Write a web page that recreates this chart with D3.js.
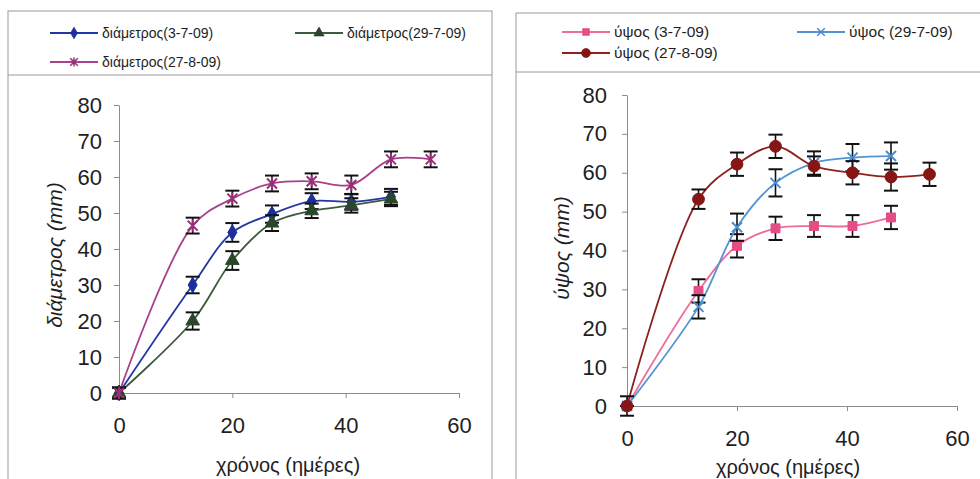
<!DOCTYPE html>
<html>
<head>
<meta charset="utf-8">
<script src="https://cdn.jsdelivr.net/npm/d3@7"></script>
<style>
  body { margin: 0; background: #fff; }
  svg { display: block; font-family: "Liberation Sans", Arial, sans-serif; }
</style>
</head>
<body>
<svg id="chart" width="980" height="479"></svg>
<script>
// sampling days (x) and axis ticks
const days = [0, 13, 20, 27, 34, 41, 48, 55];
const xTicks = [0, 20, 40, 60];
const yTicks = [0, 10, 20, 30, 40, 50, 60, 70, 80];

// left chart: διάμετρος (mm)
const diamNames = ["διάμετρος(3-7-09)", "διάμετρος(29-7-09)", "διάμετρος(27-8-09)"];
const diam_3_7 = [0, 30, 44.6, 49.7, 53.3, 53.1, 54.5];
const diam_3_7_err = [1.5, 2.3, 2.6, 2.4, 2.2, 2.2, 2.2];
const diam_29_7 = [0, 20, 36.8, 47.2, 50.6, 52.1, 53.9];
const diam_29_7_err = [1.5, 2.4, 2.6, 2.2, 2.0, 2.0, 2.0];
const diam_27_8 = [0, 46.5, 54, 58.2, 58.8, 57.8, 64.9, 64.9];
const diam_27_8_err = [1.5, 2.2, 2.2, 2.2, 2.2, 2.6, 2.2, 2.2];

// right chart: ύψος (mm)
const heightNames = ["ύψος (3-7-09)", "ύψος (29-7-09)", "ύψος (27-8-09)"];
const h_3_7 = [0, 29.6, 41.2, 45.7, 46.3, 46.3, 48.5];
const h_3_7_err = [0, 3, 3, 3, 2.8, 2.8, 3];
const h_29_7 = [0, 25.5, 46, 57.4, 62.5, 63.9, 64.3];
const h_29_7_err = [0, 3, 3.5, 3.5, 3, 3.5, 3.5];
const h_27_8 = [0, 53.2, 62.2, 66.8, 61.7, 60, 58.9, 59.6];
const h_27_8_err = [2.5, 2.5, 3, 3, 2.5, 3, 3.5, 3];

const svg = d3.select("#chart");

function markerPath(type) {
  if (type === "diamond") return d3.symbol(d3.symbolDiamond, 70)();
  if (type === "triangle") return d3.symbol(d3.symbolTriangle, 80)();
  if (type === "square") return d3.symbol(d3.symbolSquare, 80)();
  if (type === "circle") return d3.symbol(d3.symbolCircle, 110)();
  if (type === "star") return "M-5,-5L5,5M-5,5L5,-5M0,-6L0,6";
  if (type === "x") return "M-5,-5L5,5M-5,5L5,-5";
}

function drawPanel(cfg) {
  const g = svg.append("g");

  // frame + legend box
  g.append("rect")
    .attr("x", cfg.box[0]).attr("y", cfg.box[1])
    .attr("width", cfg.box[2]).attr("height", cfg.box[3])
    .attr("fill", "none").attr("stroke", "#9a9a9a").attr("stroke-width", 1);
  g.append("line")
    .attr("x1", cfg.box[0]).attr("x2", cfg.box[0] + cfg.box[2])
    .attr("y1", cfg.legendBottom).attr("y2", cfg.legendBottom)
    .attr("stroke", "#9a9a9a");

  const x = d3.scaleLinear().domain([0, 60]).range([cfg.x0, cfg.x1]);
  const y = d3.scaleLinear().domain([0, 80]).range([cfg.y0, cfg.y1]);

  const yAxis = g.append("g")
    .attr("transform", `translate(${cfg.x0},0)`)
    .call(d3.axisLeft(y).tickValues(yTicks).tickSize(5).tickSizeOuter(0).tickPadding(cfg.yPad));
  const xAxis = g.append("g")
    .attr("transform", `translate(0,${cfg.y0})`)
    .call(d3.axisBottom(x).tickValues(xTicks).tickSize(5).tickSizeOuter(0));

  [yAxis, xAxis].forEach(a => {
    a.select(".domain").attr("stroke", "#8c8c8c");
    a.selectAll(".tick line").attr("stroke", "#8c8c8c");
    a.selectAll("text").attr("fill", "#1e1e1e").attr("font-size", 22)
      .attr("font-family", "Liberation Sans, Arial, sans-serif");
  });
  xAxis.selectAll("text").attr("dy", null).attr("y", cfg.xLabelY - cfg.y0);

  // axis titles
  g.append("text")
    .attr("x", cfg.xTitle[0]).attr("y", cfg.xTitle[1])
    .attr("text-anchor", "middle").attr("font-size", 20).attr("fill", "#1e1e1e")
    .text("χρόνος (ημέρες)");
  g.append("text")
    .attr("transform", `translate(${cfg.yTitle[0]},${cfg.yTitle[1]}) rotate(-90)`)
    .attr("text-anchor", "middle").attr("dy", "0.35em")
    .attr("font-size", 21).attr("font-style", "italic").attr("fill", "#1e1e1e")
    .text(cfg.yTitleText);

  const line = d3.line()
    .x((d, i) => x(days[i]))
    .y(d => y(d))
    .curve(d3.curveCatmullRom);

  cfg.series.forEach(s => {
    const sg = g.append("g");
    sg.append("path")
      .datum(s.values)
      .attr("d", line)
      .attr("fill", "none").attr("stroke", s.line).attr("stroke-width", 1.8);

    // error bars
    const eb = sg.selectAll(".eb").data(s.values).enter().append("g");
    eb.append("line")
      .attr("x1", (d, i) => x(days[i])).attr("x2", (d, i) => x(days[i]))
      .attr("y1", (d, i) => y(d - s.err[i])).attr("y2", (d, i) => y(d + s.err[i]))
      .attr("stroke", "#111").attr("stroke-width", 1.6);
    [-1, 1].forEach(sign => {
      eb.append("line")
        .attr("x1", (d, i) => x(days[i]) - 7).attr("x2", (d, i) => x(days[i]) + 7)
        .attr("y1", (d, i) => y(d + sign * s.err[i])).attr("y2", (d, i) => y(d + sign * s.err[i]))
        .attr("stroke", "#111").attr("stroke-width", 2);
    });

    sg.selectAll(".mk").data(s.values).enter().append("path")
      .attr("transform", (d, i) => `translate(${x(days[i])},${y(d)})`)
      .attr("d", markerPath(s.marker))
      .attr("fill", (s.marker === "star" || s.marker === "x") ? "none" : s.fill)
      .attr("stroke", s.fill)
      .attr("stroke-width", (s.marker === "star" || s.marker === "x") ? 2 : 1);
  });

  // legend
  cfg.series.forEach((s, i) => {
    const [lx, ly] = cfg.legendPos[i];
    g.append("line")
      .attr("x1", lx).attr("x2", lx + cfg.legendLine)
      .attr("y1", ly).attr("y2", ly)
      .attr("stroke", s.line).attr("stroke-width", 1.8);
    g.append("path")
      .attr("transform", `translate(${lx + cfg.legendLine / 2},${ly}) scale(0.75)`)
      .attr("d", markerPath(s.marker))
      .attr("fill", (s.marker === "star" || s.marker === "x") ? "none" : s.fill)
      .attr("stroke", s.fill)
      .attr("stroke-width", (s.marker === "star" || s.marker === "x") ? 2 : 1);
    g.append("text")
      .attr("x", lx + cfg.legendLine + 4).attr("y", ly)
      .attr("dy", "0.35em").attr("font-size", cfg.legendFont).attr("fill", "#1e1e1e")
      .text(s.name);
  });
}

drawPanel({
  box: [8, 11, 484, 480], legendBottom: 75,
  x0: 119, x1: 459, y0: 393, y1: 105, yPad: 12,
  xLabelY: 433, xTitle: [288, 472], yTitle: [55, 255], yTitleText: "διάμετρος (mm)",
  legendPos: [[50, 33], [295, 33], [50, 62]], legendLine: 48, legendFont: 14,
  series: [
    { name: diamNames[0], values: diam_3_7, err: diam_3_7_err, line: "#2236a8", fill: "#1c2f9c", marker: "diamond" },
    { name: diamNames[1], values: diam_29_7, err: diam_29_7_err, line: "#3d5c3d", fill: "#2b472b", marker: "triangle" },
    { name: diamNames[2], values: diam_27_8, err: diam_27_8_err, line: "#a8408a", fill: "#962f78", marker: "star" }
  ]
});

drawPanel({
  box: [516, 13, 480, 480], legendBottom: 72,
  x0: 627, x1: 957, y0: 406, y1: 95, yPad: 15,
  xLabelY: 446, xTitle: [788, 474], yTitle: [562, 248], yTitleText: "ύψος (mm)",
  legendPos: [[562, 32], [797, 32], [562, 53]], legendLine: 48, legendFont: 15.5,
  series: [
    { name: heightNames[0], values: h_3_7, err: h_3_7_err, line: "#ee6d98", fill: "#e44d85", marker: "square" },
    { name: heightNames[1], values: h_29_7, err: h_29_7_err, line: "#5395d3", fill: "#4a8ccc", marker: "x" },
    { name: heightNames[2], values: h_27_8, err: h_27_8_err, line: "#8e2020", fill: "#861616", marker: "circle" }
  ]
});
</script>
</body>
</html>
